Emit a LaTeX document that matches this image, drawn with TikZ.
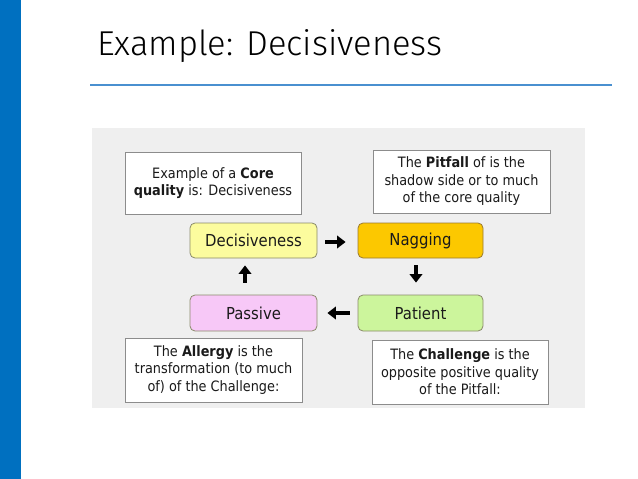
\documentclass[tikz,border=0pt]{standalone}
\usepackage{fontspec}
\setmainfont{DejaVu Sans Condensed}
\newfontfamily\titlefont{Fira Sans Light}
\usetikzlibrary{arrows.meta}
\definecolor{barblue}{HTML}{0070C0}
\definecolor{lineblue}{HTML}{4A90D0}
\definecolor{panel}{HTML}{EFEFEF}
\definecolor{txt}{HTML}{1A1A1A}
\definecolor{decfill}{HTML}{FCFC9E}
\definecolor{nagfill}{HTML}{FCC800}
\definecolor{pasfill}{HTML}{F7C8F7}
\definecolor{patfill}{HTML}{CCF59C}
\definecolor{qborder}{HTML}{8A8A6A}
\definecolor{nborder}{HTML}{9A7A30}
\begin{document}
\begin{tikzpicture}[x=1pt,y=-1pt,
  note/.style={draw=black!45, line width=0.8pt, fill=white, text=txt, align=center,
    inner sep=0pt, font=\fontsize{14.3}{17.5}\selectfont},
  quality/.style={draw=qborder, line width=0.8pt, rounded corners=5pt, text=txt,
    inner sep=0pt, font=\fontsize{16.5}{19}\selectfont, minimum height=35pt},
  fat/.style={line width=3.2pt, -{Triangle[width=12.5pt,length=8.5pt]}, black}]
\useasboundingbox (0,0) rectangle (638,479);
\fill[white] (0,0) rectangle (638,479);
\fill[barblue] (0,0) rectangle (21,479);
\node[anchor=base west, inner sep=0pt, font=\titlefont\fontsize{34.5}{40}\selectfont] (title) at (97,56) {Example: Decisiveness};
\coordinate (ul1) at (90,85);
\coordinate (ul2) at (612,85);
\draw[lineblue, line width=1.5pt] (ul1) -- (ul2);
\fill[panel] (92,128) rectangle (585,408);
\node[note, minimum width=176pt, minimum height=62pt] (core) at (213,183)
  {Example of a \textbf{Core}\\\textbf{quality} is: Decisiveness};
\node[note, minimum width=177pt, minimum height=63pt] (pitfall) at (461.5,181.5)
  {The \textbf{Pitfall} of is the\\shadow side or to much\\of the core quality};
\node[note, minimum width=177pt, minimum height=64pt] (allergy) at (213.5,370)
  {The \textbf{Allergy} is the\\transformation (to much\\of) of the Challenge:};
\node[note, minimum width=176pt, minimum height=64pt] (challenge) at (460,372)
  {The \textbf{Challenge} is the\\opposite positive quality\\of the Pitfall:};
\node[quality, fill=decfill, minimum width=127pt] (dec) at (253.5,240.5) {Decisiveness};
\node[quality, fill=nagfill, draw=nborder, minimum width=125pt] (nag) at (420.5,240.5) {Nagging};
\node[quality, fill=pasfill, minimum width=127pt, minimum height=36pt] (pas) at (253.5,313) {Passive};
\node[quality, fill=patfill, minimum width=125pt, minimum height=36pt] (pat) at (420.5,313) {Patient};
\draw[fat] ([xshift=8pt,yshift=-1.5pt]dec.east) -- ([xshift=-12pt,yshift=-1.5pt]nag.west);
\draw[fat] ([xshift=-4.5pt,yshift=-7pt]nag.south) -- ([xshift=-4.5pt,yshift=12pt]pat.north);
\draw[fat] ([xshift=-8pt]pat.west) -- ([xshift=10pt]pas.east);
\draw[fat] ([xshift=-8.5pt,yshift=12pt]pas.north) -- ([xshift=-8.5pt,yshift=-7pt]dec.south);
\end{tikzpicture}
\end{document}
